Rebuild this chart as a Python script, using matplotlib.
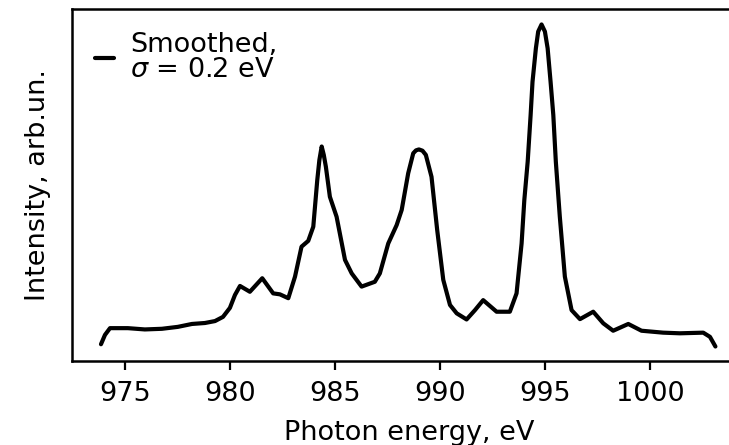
import matplotlib
matplotlib.use("Agg")
import matplotlib.pyplot as plt

# Photon energy (eV) and smoothed intensity (arb. units)
energy = [973.86, 974.05, 974.29, 975.14, 975.95, 976.76, 977.52, 978.19, 978.81,
          979.29, 979.67, 980.00, 980.24, 980.48, 980.95, 981.54, 982.06, 982.38,
          982.78, 983.10, 983.41, 983.73, 983.97, 984.16, 984.26, 984.37, 984.47,
          984.57, 984.76, 985.08, 985.48, 985.80, 986.27, 986.90, 987.14, 987.54,
          987.94, 988.18, 988.49, 988.73, 988.86, 989.00, 989.17, 989.33, 989.60,
          989.87, 990.16, 990.48, 990.80, 991.27, 991.67, 992.06, 992.70, 993.33,
          993.65, 993.89, 994.02, 994.18, 994.32, 994.41, 994.57, 994.68, 994.84,
          995.00, 995.13, 995.27, 995.40, 995.52, 995.71, 995.95, 996.27, 996.67,
          997.30, 997.78, 998.25, 998.97, 999.60, 1000.63, 1001.43, 1002.54,
          1002.86, 1003.12]
intensity = [0.007, 0.036, 0.057, 0.057, 0.053, 0.055, 0.061, 0.070, 0.073,
             0.079, 0.092, 0.120, 0.160, 0.188, 0.170, 0.212, 0.165, 0.162,
             0.150, 0.217, 0.310, 0.328, 0.372, 0.517, 0.579, 0.621, 0.595,
             0.558, 0.465, 0.403, 0.269, 0.227, 0.186, 0.201, 0.227, 0.320,
             0.377, 0.424, 0.538, 0.600, 0.609, 0.612, 0.608, 0.595, 0.527,
             0.362, 0.207, 0.129, 0.103, 0.084, 0.113, 0.144, 0.108, 0.108,
             0.165, 0.320, 0.455, 0.574, 0.719, 0.822, 0.926, 0.978, 1.000,
             0.978, 0.926, 0.822, 0.719, 0.574, 0.403, 0.217, 0.113, 0.085,
             0.108, 0.072, 0.049, 0.070, 0.049, 0.043, 0.041, 0.043,
             0.030, 0.000]
xticks = [975, 980, 985, 990, 995, 1000]
label = "Smoothed,\n$\\sigma$ = 0.2 eV"

plt.rcParams["font.family"] = ["DejaVu Sans"]
plt.rcParams["font.size"] = 19.5

fig = plt.figure(figsize=(7.29, 4.45), dpi=100)
ax = fig.add_axes([72 / 729, 84 / 445, 674.5 / 729, 352 / 445])
ax.plot(energy, intensity, color="black", lw=3.0, label=label,
        solid_joinstyle="round", solid_capstyle="round")
ax.set_xlim(972.48, 1004.6)
ax.set_ylim(-0.045, 1.048)
ax.set_xticks(xticks)
ax.set_yticks([])
ax.tick_params(axis="x", length=6.5, width=1.6, pad=8)
for s in ax.spines.values():
    s.set_linewidth(1.8)
ax.set_xlabel("Photon energy, eV", labelpad=9)
ax.set_ylabel("Intensity, arb.un.", labelpad=15)
leg = ax.legend(loc="upper left", frameon=False, handlelength=0.7,
                handletextpad=0.6, borderaxespad=0.45)
for t in leg.get_texts():
    t.set_linespacing(0.95)

fig.savefig("out.png", dpi=100)
